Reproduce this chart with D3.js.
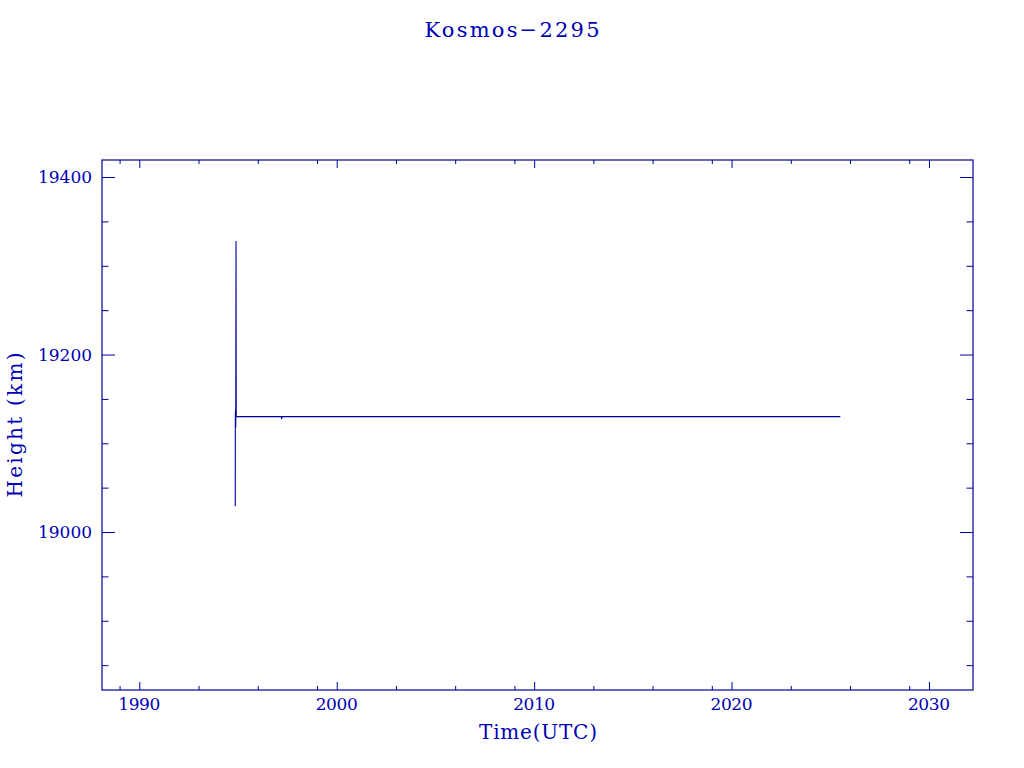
<!DOCTYPE html>
<html>
<head>
<meta charset="utf-8">
<script src="https://cdn.jsdelivr.net/npm/d3@7"></script>
<style>
  html, body { margin: 0; padding: 0; background: #fff; }
  svg { display: block; }
</style>
</head>
<body>
<svg id="chart" width="1024" height="768"></svg>
<script>
// ---- data ----
const title = "Kosmos\u22122295";
const xLabel = "Time(UTC)";
const yLabel = "Height (km)";
const times = [1994.86, 1994.865, 1994.87, 1994.875, 1994.878, 1994.88, 1994.885, 1994.90, 1994.91, 1995.2, 1996.0, 1997.0, 1997.2, 1997.21, 1997.22, 1998.0, 2000.0, 2003.0, 2006.0, 2010.0, 2014.0, 2018.0, 2022.0, 2025.51];
const heights = [19029, 19135, 19117, 19138, 19119, 19136, 19118, 19328, 19130, 19130, 19130, 19130, 19130, 19127, 19130, 19130, 19130, 19130, 19130, 19130, 19130, 19130, 19130, 19130];
const xMajorTicks = [1990, 2000, 2010, 2020, 2030];
const xMinorTicks = [1989, 1993, 1996, 1999, 2003, 2006, 2009, 2013, 2016, 2019, 2023, 2026, 2029];
const yMajorTicks = [19000, 19200, 19400];
const yMinorTicks = [18850, 18900, 18950, 19050, 19100, 19150, 19250, 19300, 19350];

// ---- layout ----
const mLeft = 102, mRight = 973, mTop = 160, mBottom = 690;
const lineCol = "#00009a", textCol = "#0000b4";
const font = "'DejaVu Serif', 'Liberation Serif', serif";

const svg = d3.select("#chart");
const x = d3.scaleLinear().domain([1988.11, 2032.23]).range([mLeft, mRight]);
const y = d3.scaleLinear().domain([18822, 19419.2]).range([mBottom, mTop]);

function drawTicks(g, axisFn, ticks, size) {
  g.call(axisFn.tickValues(ticks).tickSize(size).tickFormat(""));
  g.select(".domain").remove();
  g.selectAll(".tick line").attr("stroke", lineCol).attr("stroke-width", 1);
}
drawTicks(svg.append("g").attr("transform", `translate(0,${mBottom})`), d3.axisTop(x), xMajorTicks, 8);
drawTicks(svg.append("g").attr("transform", `translate(0,${mBottom})`), d3.axisTop(x), xMinorTicks, 4);
drawTicks(svg.append("g").attr("transform", `translate(0,${mTop})`), d3.axisBottom(x), xMajorTicks, 8);
drawTicks(svg.append("g").attr("transform", `translate(0,${mTop})`), d3.axisBottom(x), xMinorTicks, 4);
drawTicks(svg.append("g").attr("transform", `translate(${mLeft},0)`), d3.axisRight(y), yMajorTicks, 13);
drawTicks(svg.append("g").attr("transform", `translate(${mLeft},0)`), d3.axisRight(y), yMinorTicks, 6.5);
drawTicks(svg.append("g").attr("transform", `translate(${mRight},0)`), d3.axisLeft(y), yMajorTicks, 13);
drawTicks(svg.append("g").attr("transform", `translate(${mRight},0)`), d3.axisLeft(y), yMinorTicks, 6.5);

svg.append("rect")
  .attr("x", mLeft).attr("y", mTop)
  .attr("width", mRight - mLeft).attr("height", mBottom - mTop)
  .attr("fill", "none").attr("stroke", lineCol).attr("stroke-width", 1.2);

svg.append("g").selectAll("text").data(xMajorTicks).join("text")
  .attr("x", d => x(d)).attr("y", mBottom + 20)
  .attr("text-anchor", "middle")
  .attr("font-family", font).attr("font-size", 17).attr("fill", textCol)
  .attr("textLength", 42).attr("lengthAdjust", "spacing")
  .text(d => d);
svg.append("g").selectAll("text").data(yMajorTicks).join("text")
  .attr("x", 92).attr("y", d => y(d) + 6)
  .attr("text-anchor", "end")
  .attr("font-family", font).attr("font-size", 17).attr("fill", textCol)
  .attr("textLength", 54).attr("lengthAdjust", "spacing")
  .text(d => d);

const pts = times.map((t, i) => [t, heights[i]]);
svg.append("path")
  .datum(pts)
  .attr("fill", "none").attr("stroke", lineCol).attr("stroke-width", 1.1)
  .attr("d", d3.line().x(d => x(d[0])).y(d => y(d[1])));

svg.append("text")
  .attr("x", 512).attr("y", 37)
  .attr("text-anchor", "middle")
  .attr("font-family", font).attr("font-size", 21).attr("fill", textCol)
  .attr("textLength", 175).attr("lengthAdjust", "spacing")
  .text(title);
svg.append("text")
  .attr("x", 538).attr("y", 739)
  .attr("text-anchor", "middle")
  .attr("font-family", font).attr("font-size", 20).attr("fill", textCol)
  .attr("textLength", 118).attr("lengthAdjust", "spacing")
  .text(xLabel);
svg.append("text")
  .attr("transform", "translate(22,425) rotate(-90)")
  .attr("text-anchor", "middle")
  .attr("font-family", font).attr("font-size", 20).attr("fill", textCol)
  .attr("textLength", 145).attr("lengthAdjust", "spacing")
  .text(yLabel);
</script>
</body>
</html>
